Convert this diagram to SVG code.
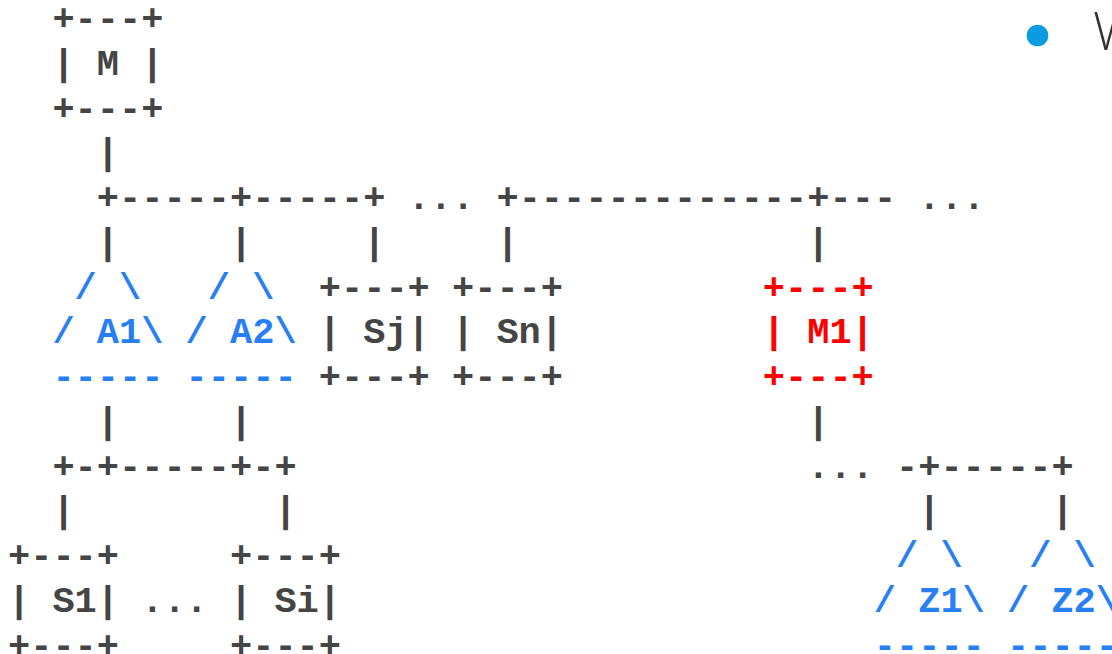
<svg xmlns="http://www.w3.org/2000/svg" width="1112" height="654" viewBox="0 0 1112 654">
<style>
.t{font-family:"Liberation Mono","Courier New",monospace;font-size:37px;font-weight:bold}
.g{fill:#454545}
.b{fill:#2680f4}
.r{fill:#ff0000}
</style>
<rect width="1112" height="654" fill="#ffffff"/>
<g id="bullet">
<circle cx="1037.5" cy="35.5" r="10.8" fill="#0a9be0"/>
<text x="1093" y="50" font-family="'Open Sans',sans-serif" font-weight="300" font-size="53" fill="#333333">W</text>
</g>
<g id="connectors" class="t g">
<text x="96.8" y="164.3">|</text>
<text x="96.8" y="209">+-----+-----+&#160;...&#160;+-------------+---&#160;...</text>
<text x="96.8" y="253.8">|&#160;&#160;&#160;&#160;&#160;|&#160;&#160;&#160;&#160;&#160;|&#160;&#160;&#160;&#160;&#160;|&#160;&#160;&#160;&#160;&#160;&#160;&#160;&#160;&#160;&#160;&#160;&#160;&#160;|</text>
<text x="96.8" y="432.8">|&#160;&#160;&#160;&#160;&#160;|</text>
<text x="807.2" y="432.8">|</text>
<text x="52.4" y="477.6">+-+-----+-+</text>
<text x="807.2" y="477.6">...&#160;-+-----+</text>
<text x="52.4" y="522.4">|&#160;&#160;&#160;&#160;&#160;&#160;&#160;&#160;&#160;|</text>
<text x="918.2" y="522.4">|&#160;&#160;&#160;&#160;&#160;|</text>
<text x="141.2" y="611.9">...</text>
</g>
<g id="node-M" class="t g">
<text x="52.4" y="30">+---+</text>
<text x="52.4" y="74.8">|&#160;M&#160;|</text>
<text x="52.4" y="119.5">+---+</text>
</g>
<g id="node-A1" class="t b">
<text x="74.6" y="298.6">/&#160;\</text>
<text x="52.4" y="343.3">/&#160;A1\</text>
<text x="52.4" y="388.1">-----</text>
</g>
<g id="node-A2" class="t b">
<text x="207.8" y="298.6">/&#160;\</text>
<text x="185.6" y="343.3">/&#160;A2\</text>
<text x="185.6" y="388.1">-----</text>
</g>
<g id="node-Sj" class="t g">
<text x="318.8" y="298.6">+---+</text>
<text x="318.8" y="343.3">|&#160;Sj|</text>
<text x="318.8" y="388.1">+---+</text>
</g>
<g id="node-Sn" class="t g">
<text x="452" y="298.6">+---+</text>
<text x="452" y="343.3">|&#160;Sn|</text>
<text x="452" y="388.1">+---+</text>
</g>
<g id="node-M1" class="t r">
<text x="762.8" y="298.6">+---+</text>
<text x="762.8" y="343.3">|&#160;M1|</text>
<text x="762.8" y="388.1">+---+</text>
</g>
<g id="node-S1" class="t g">
<text x="8" y="567.1">+---+</text>
<text x="8" y="611.9">|&#160;S1|</text>
<text x="8" y="656.6">+---+</text>
</g>
<g id="node-Si" class="t g">
<text x="230" y="567.1">+---+</text>
<text x="230" y="611.9">|&#160;Si|</text>
<text x="230" y="656.6">+---+</text>
</g>
<g id="node-Z1" class="t b">
<text x="896" y="567.1">/&#160;\</text>
<text x="873.8" y="611.9">/&#160;Z1\</text>
<text x="873.8" y="656.6">-----</text>
</g>
<g id="node-Z2" class="t b">
<text x="1029.2" y="567.1">/&#160;\</text>
<text x="1007" y="611.9">/&#160;Z2\</text>
<text x="1007" y="656.6">-----</text>
</g>
</svg>
